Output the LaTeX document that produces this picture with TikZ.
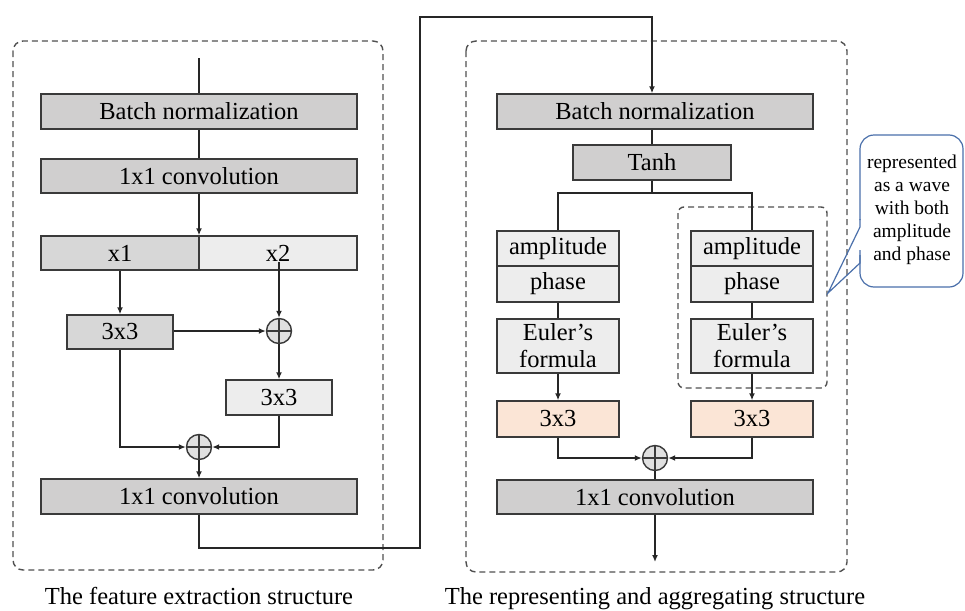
\documentclass[tikz,border=0pt]{standalone}
\usepackage{fontspec}
\setmainfont{Liberation Serif}
\usetikzlibrary{arrows.meta}
\definecolor{bordercol}{HTML}{3A3A3A}
\definecolor{darkfill}{HTML}{D0CFCF}
\definecolor{midfill}{HTML}{D7D7D7}
\definecolor{lightfill}{HTML}{EDEDED}
\definecolor{orangefill}{HTML}{FBE5D6}
\definecolor{dashcol}{HTML}{505050}
\definecolor{calloutcol}{HTML}{4A6FAA}
\tikzset{
  box/.style={draw=bordercol, line width=1.4pt, inner sep=0pt, font=\fontsize{24.5}{27}\selectfont, align=center},
  darkbox/.style={box, fill=darkfill},
  midbox/.style={box, fill=midfill},
  lightbox/.style={box, fill=lightfill},
  orangebox/.style={box, fill=orangefill},
  conn/.style={draw=black!85, line width=1.5pt},
  arr/.style={conn, -{Latex[length=7pt,width=6pt]}},
  plusnode/.style={circle, draw=bordercol, line width=1.4pt, fill=black!12, minimum size=25pt, inner sep=0pt,
    path picture={\draw[bordercol, line width=1.3pt] (path picture bounding box.north) -- (path picture bounding box.south)
      (path picture bounding box.west) -- (path picture bounding box.east);}},
  dashbox/.style={draw=dashcol, line width=1.4pt, dash pattern=on 6pt off 4pt},
  caption/.style={font=\fontsize{24.5}{27}\selectfont, anchor=base},
}
\begin{document}
\begin{tikzpicture}[x=1pt, y=-1pt]
\useasboundingbox (0,0) rectangle (965,610);

% dashed frames
\draw[dashbox, rounded corners=10pt] (13,41) rectangle (383,570);
\draw[dashbox, rounded corners=10pt] (466,41) rectangle (847,572);
\draw[dashbox, rounded corners=6pt] (678,207) rectangle (827,388);

% ---------- left structure ----------
\node[darkbox, minimum width=316pt, minimum height=35pt] (bn1) at (199,111.5) {Batch normalization};
\node[darkbox, minimum width=316pt, minimum height=34pt] (conv1) at (199,176) {1x1 convolution};
\node[midbox, minimum width=158pt, minimum height=34pt] (x1) at (120,253) {x1};
\node[lightbox, minimum width=158pt, minimum height=34pt] (x2) at (278,253) {x2};
\node[midbox, minimum width=106pt, minimum height=34pt] (a3) at (120,332) {3x3};
\node[plusnode] (p1) at (279,331) {};
\node[lightbox, minimum width=106pt, minimum height=35pt] (b3) at (279,397.5) {3x3};
\node[plusnode] (p2) at (199,447) {};
\node[darkbox, minimum width=316pt, minimum height=35pt] (conv2) at (199,496.5) {1x1 convolution};

\coordinate (in1) at (199,58);
\coordinate (x2top) at (279,262);
\draw[conn] (in1) -- (bn1.north);
\draw[conn] (bn1.south) -- (conv1.north);
\draw[arr] (conv1.south) -- (conv1.south |- x1.north);
\draw[arr] (x1.south) -- (a3.north);
\draw[arr] (x2top) -- (p1.north);
\draw[arr] (a3.east |- p1) -- (p1.west);
\draw[arr] (p1.south) -- (b3.north);
\draw[arr] (a3.south) |- (p2.west);
\draw[arr] (b3.south) |- (p2.east);
\draw[arr] (p2.south) -- (conv2.north);

% ---------- connector between structures ----------
\coordinate (c1) at (420,548);
\coordinate (c2) at (420,17);
\coordinate (c3) at (652,17);

% ---------- right structure ----------
\node[darkbox, minimum width=316pt, minimum height=35pt] (bn2) at (655,111.5) {Batch normalization};
\node[darkbox, minimum width=158pt, minimum height=35pt] (tanh) at (652,162.5) {Tanh};
\node[lightbox, minimum width=122pt, minimum height=35pt] (ampL) at (558,248.5) {amplitude};
\node[lightbox, minimum width=122pt, minimum height=36pt] (phL) at (558,284) {phase};
\node[lightbox, minimum width=122pt, minimum height=54pt] (euL) at (558,346) {Euler’s\\formula};
\node[orangebox, minimum width=122pt, minimum height=36pt] (oL) at (558,419) {3x3};
\node[lightbox, minimum width=122pt, minimum height=35pt] (ampR) at (752,248.5) {amplitude};
\node[lightbox, minimum width=122pt, minimum height=36pt] (phR) at (752,284) {phase};
\node[lightbox, minimum width=122pt, minimum height=54pt] (euR) at (752,346) {Euler’s\\formula};
\node[orangebox, minimum width=122pt, minimum height=36pt] (oR) at (752,419) {3x3};
\node[plusnode] (p3) at (655,458) {};
\node[darkbox, minimum width=316pt, minimum height=34pt] (conv3) at (655,497) {1x1 convolution};
\coordinate (out) at (655,562);
\coordinate (split) at (652,193);

\draw[arr] (conv2.south) |- (c1) -- (c2) -- (c3) -- (c3 |- bn2.north);
\draw[conn] (bn2.south -| tanh.north) -- (tanh.north);
\draw[conn] (tanh.south) -- (split);
\draw[conn] (ampL.north) |- (split) -| (ampR.north);
\draw[conn] (phL.south) -- (euL.north);
\draw[conn] (phR.south) -- (euR.north);
\draw[arr] (euL.south) -- (oL.north);
\draw[arr] (euR.south) -- (oR.north);
\draw[arr] (oL.south) |- (p3.west);
\draw[arr] (oR.south) |- (p3.east);
\draw[conn] (p3.south) -- (conv3.north);
\draw[arr] (conv3.south) -- (out);

% ---------- callout ----------
\draw[calloutcol, line width=1.2pt, rounded corners=14pt]
  (860,250) -- (860,287) -- (963,287) -- (963,135) -- (860,135) -- (860,220);
\draw[calloutcol, line width=1.2pt] (860,219) -- (860,227) -- (828,293) -- (860,263) -- (860,255);
\node[font=\fontsize{19.5}{23}\selectfont, align=center, inner sep=0pt] (note) at (912,210)
  {represented\\as a wave\\with both\\amplitude\\and phase};

% ---------- captions ----------
\node[caption] (cap1) at (199,604) {The feature extraction structure};
\node[caption] (cap2) at (655,604) {The representing and aggregating structure};
\end{tikzpicture}
\end{document}
